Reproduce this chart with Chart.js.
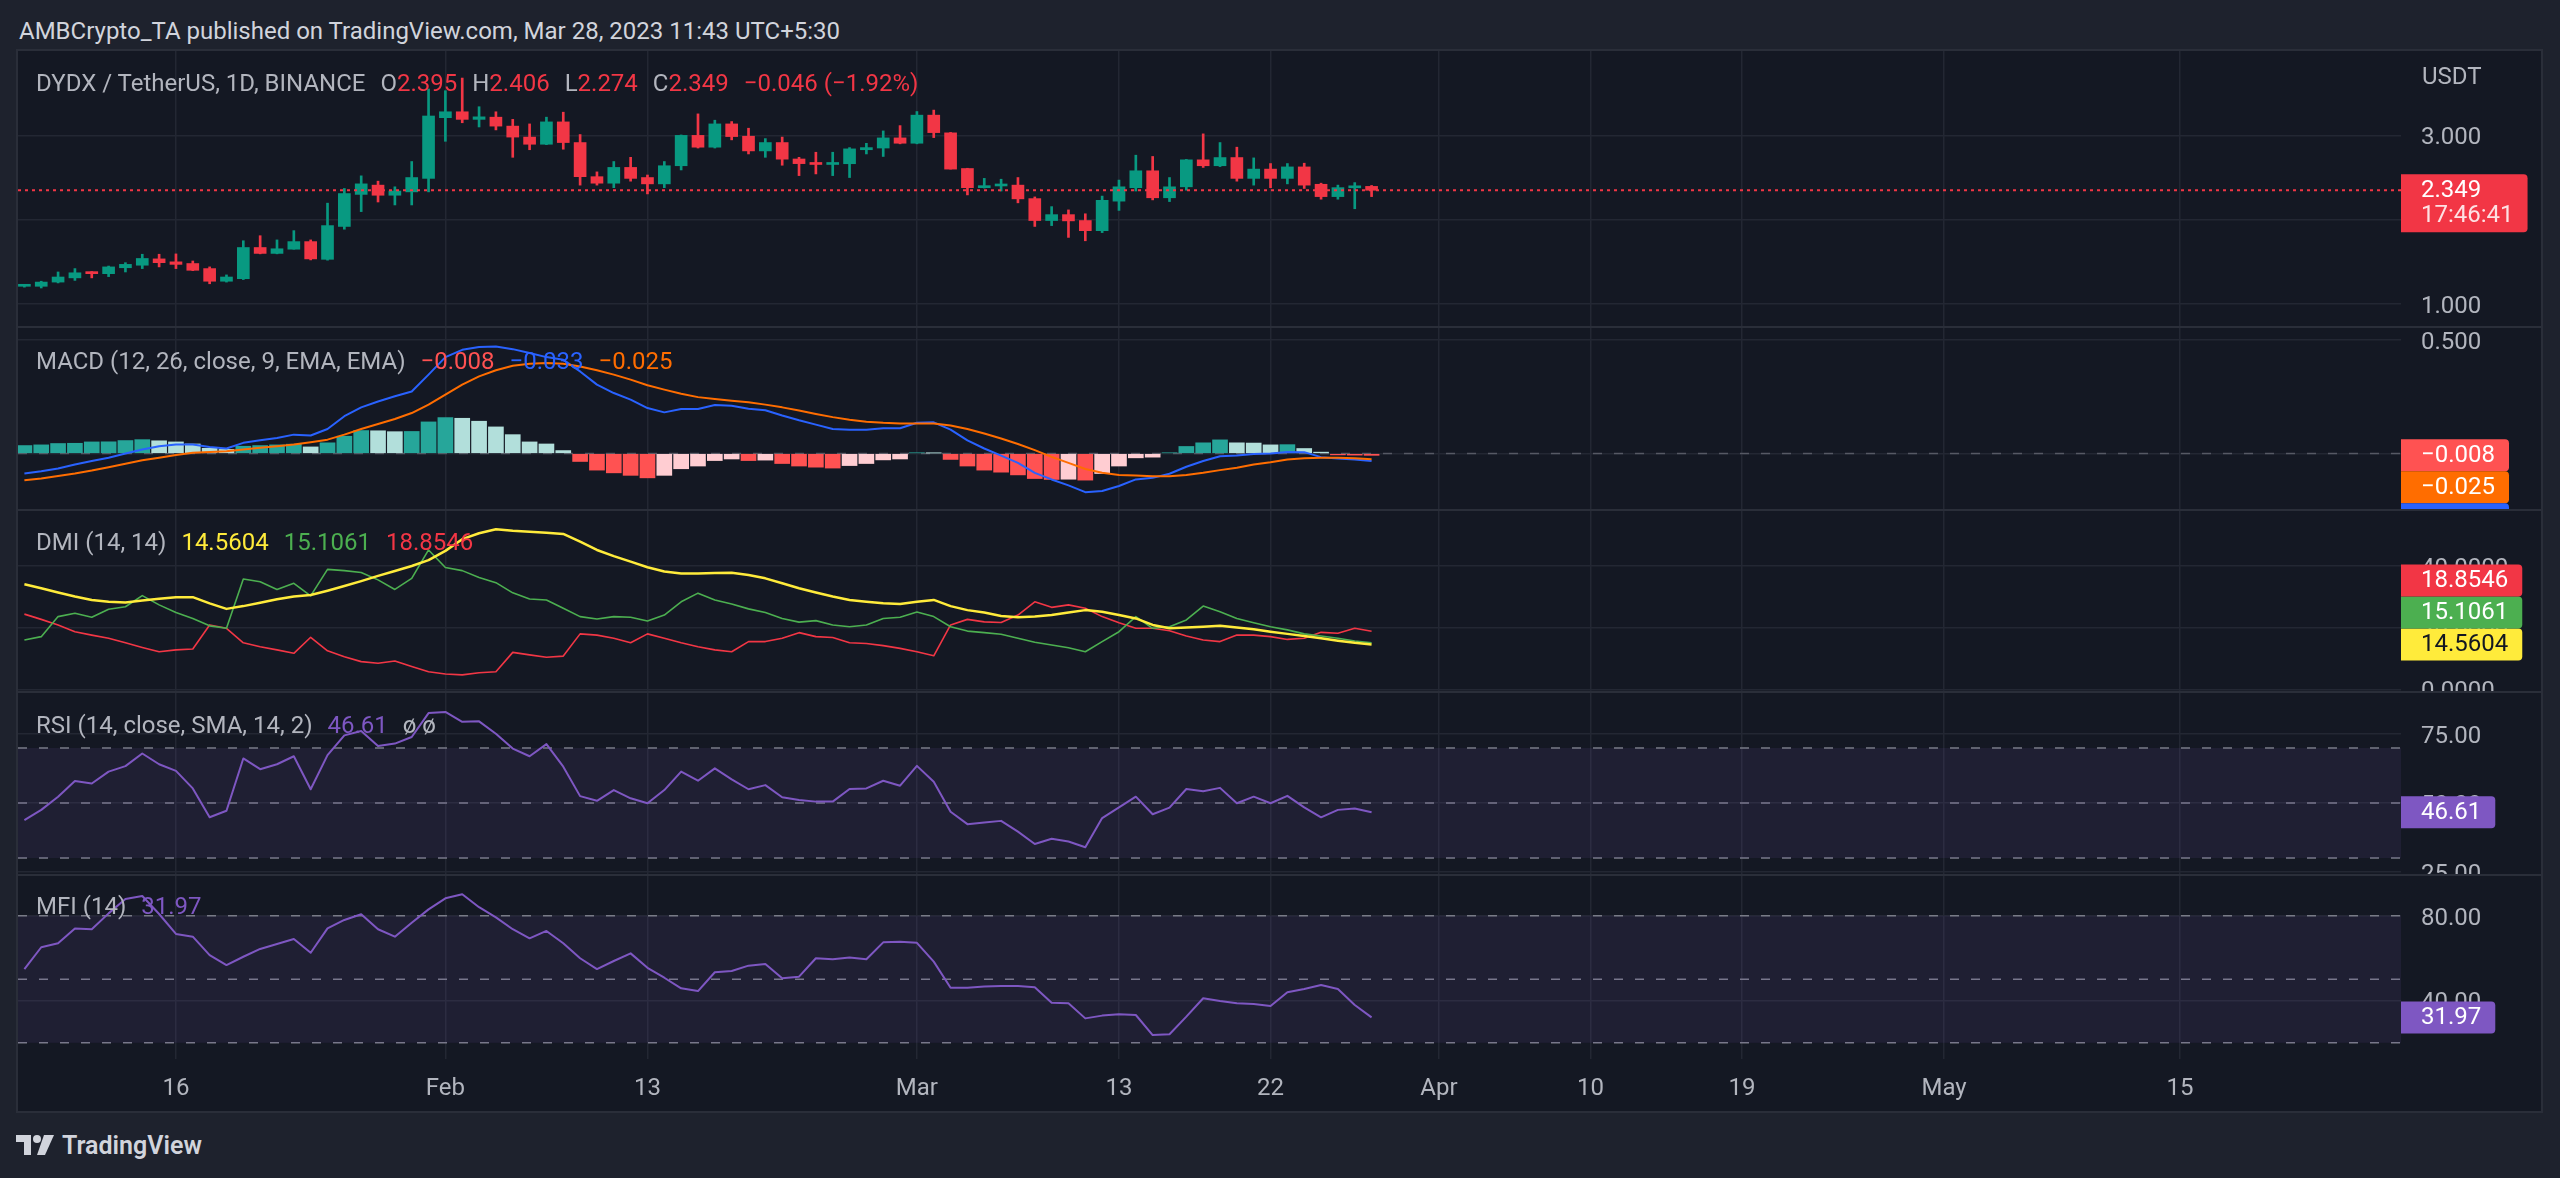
<!DOCTYPE html>
<html>
<head>
<meta charset="utf-8">
<title>DYDX / TetherUS 1D</title>
<script src="https://cdn.jsdelivr.net/npm/chart.js@4.4.1/dist/chart.umd.min.js"></script>
<style>
  html, body { margin: 0; padding: 0; }
  body { position: relative; width: 2560px; height: 1178px; overflow: hidden; background: #1e222d; font-family: Roboto, "Noto Sans", sans-serif; }
  #frame { position: absolute; left: 16px; top: 49px; width: 2527px; height: 1064px; background: #2a2e39; }
  canvas { position: absolute; background: #141823; }
  .txt { position: absolute; z-index: 2; white-space: pre; font-size: 24px; line-height: 24px; color: #b2b5be; }
  .txt .v { margin-left: 15px; }
  #logo { position: absolute; left: 16px; top: 1133px; z-index: 2; }
</style>
</head>
<body>
<div id="frame"></div>
<div class="txt" style="left:19px;top:19px;color:#d1d4dc">AMBCrypto_TA published on TradingView.com, Mar 28, 2023 11:43 UTC+5:30</div>
<div class="txt" style="left:2422px;top:64px">USDT</div>
<svg id="logo" width="200" height="26" viewBox="0 0 200 26">
  <path d="M0 2h15v20H8V9H0z" fill="#d1d4dc"/>
  <circle cx="21" cy="6" r="4" fill="#d1d4dc"/>
  <path d="M28 2h10l-9 20h-8z" fill="#d1d4dc"/>
  <text x="46" y="21" font-family="Roboto, sans-serif" font-size="25" font-weight="600" fill="#d1d4dc">TradingView</text>
</svg>
<script>
// DYDX/USDT daily, Jan 7 - Mar 28 2023 (index 0 = Jan 7)
const opens = [1.21, 1.21, 1.26, 1.31, 1.38, 1.36, 1.43, 1.46, 1.535, 1.50,
  1.48, 1.42, 1.27, 1.30, 1.67, 1.60, 1.65, 1.74, 1.53, 1.92,
  2.30, 2.41, 2.29, 2.33, 2.49, 3.21, 3.28, 3.19, 3.216, 3.11,
  2.98, 2.895, 3.16, 2.915, 2.51, 2.433, 2.62, 2.50, 2.425, 2.64,
  3.0, 2.86, 3.136, 2.99, 2.816, 2.915, 2.72, 2.665, 2.655, 2.664,
  2.83, 2.85, 2.97, 2.907, 3.24, 3.03, 2.607, 2.38, 2.40, 2.41,
  2.25, 1.99, 2.06, 1.99, 1.87, 2.22, 2.38, 2.58, 2.26, 2.39,
  2.71, 2.64, 2.737, 2.49, 2.60, 2.49, 2.626, 2.42, 2.274, 2.378,
  2.395];
const highs = [1.225, 1.27, 1.38, 1.42, 1.385, 1.45, 1.49, 1.59, 1.59, 1.594,
  1.51, 1.44, 1.345, 1.75, 1.81, 1.76, 1.87, 1.76, 2.196, 2.37,
  2.52, 2.457, 2.39, 2.69, 3.55, 3.53, 3.68, 3.34, 3.28, 3.19,
  3.136, 3.216, 3.275, 3.01, 2.567, 2.69, 2.74, 2.53, 2.69, 3.005,
  3.255, 3.18, 3.164, 3.085, 2.962, 2.98, 2.74, 2.80, 2.80, 2.855,
  2.906, 3.053, 3.116, 3.283, 3.30, 3.035, 2.61, 2.49, 2.48, 2.50,
  2.27, 2.155, 2.116, 2.07, 2.28, 2.47, 2.765, 2.75, 2.50, 2.715,
  3.018, 2.915, 2.86, 2.733, 2.666, 2.666, 2.67, 2.433, 2.41, 2.44,
  2.406];
const lows = [1.20, 1.19, 1.25, 1.28, 1.31, 1.325, 1.38, 1.42, 1.44, 1.42,
  1.395, 1.24, 1.26, 1.29, 1.595, 1.595, 1.65, 1.523, 1.52, 1.887,
  2.096, 2.21, 2.175, 2.175, 2.33, 2.93, 3.15, 3.10, 3.065, 2.74,
  2.83, 2.89, 2.836, 2.41, 2.41, 2.38, 2.457, 2.306, 2.38, 2.59,
  2.85, 2.85, 2.947, 2.78, 2.74, 2.646, 2.523, 2.543, 2.523, 2.50,
  2.78, 2.75, 2.90, 2.90, 2.974, 2.60, 2.294, 2.375, 2.34, 2.20,
  1.92, 1.93, 1.79, 1.75, 1.847, 2.11, 2.34, 2.235, 2.215, 2.35,
  2.62, 2.63, 2.457, 2.41, 2.38, 2.425, 2.37, 2.243, 2.243, 2.13,
  2.274];
const closes = [1.215, 1.26, 1.32, 1.37, 1.36, 1.44, 1.47, 1.54, 1.49, 1.47,
  1.40, 1.27, 1.32, 1.67, 1.60, 1.655, 1.74, 1.535, 1.93, 2.31,
  2.425, 2.29, 2.34, 2.50, 3.23, 3.28, 3.19, 3.22, 3.11, 2.98,
  2.895, 3.16, 2.915, 2.51, 2.433, 2.62, 2.49, 2.425, 2.64, 3.0,
  2.86, 3.136, 2.986, 2.816, 2.915, 2.718, 2.665, 2.655, 2.664, 2.84,
  2.855, 2.97, 2.907, 3.24, 3.033, 2.60, 2.38, 2.40, 2.41, 2.247,
  1.99, 2.06, 1.986, 1.87, 2.23, 2.39, 2.58, 2.26, 2.39, 2.71,
  2.64, 2.737, 2.49, 2.60, 2.49, 2.626, 2.41, 2.274, 2.38, 2.395,
  2.349];

const histogram = [0.035, 0.038, 0.044, 0.045, 0.051, 0.0515, 0.057, 0.061, 0.056, 0.051,
  0.042, 0.023, 0.018, 0.032, 0.035, 0.038, 0.041, 0.029, 0.047, 0.076,
  0.101, 0.100, 0.096, 0.097, 0.139, 0.158, 0.155, 0.142, 0.117, 0.083,
  0.051, 0.042, 0.013, -0.035, -0.073, -0.085, -0.096, -0.107, -0.096, -0.067,
  -0.055, -0.031, -0.024, -0.031, -0.029, -0.044, -0.055, -0.060, -0.064, -0.053,
  -0.044, -0.028, -0.024, 0.003, 0.002, -0.026, -0.055, -0.073, -0.082, -0.094,
  -0.110, -0.114, -0.113, -0.117, -0.088, -0.055, -0.019, -0.016, 0.003, 0.031,
  0.047, 0.060, 0.047, 0.046, 0.038, 0.039, 0.022, 0.006, -0.006, -0.007,
  -0.008];
const macdLine = [-0.088, -0.078, -0.066, -0.048, -0.033, -0.019, 0.000, 0.018, 0.032, 0.040,
  0.040, 0.029, 0.022, 0.047, 0.058, 0.068, 0.083, 0.079, 0.108, 0.164,
  0.203, 0.229, 0.252, 0.273, 0.347, 0.424, 0.456, 0.468, 0.471, 0.459,
  0.442, 0.424, 0.412, 0.361, 0.303, 0.266, 0.237, 0.200, 0.181, 0.196,
  0.196, 0.213, 0.210, 0.197, 0.190, 0.167, 0.146, 0.127, 0.108, 0.105,
  0.105, 0.111, 0.111, 0.135, 0.137, 0.105, 0.058, 0.022, -0.009, -0.041,
  -0.085, -0.114, -0.140, -0.170, -0.165, -0.143, -0.114, -0.107, -0.089, -0.058,
  -0.033, -0.012, -0.009, -0.002, 0.000, 0.007, 0.006, -0.016, -0.022, -0.026,
  -0.033];
const signalLine = [-0.118, -0.110, -0.099, -0.088, -0.075, -0.060, -0.045, -0.030, -0.019, -0.007,
  0.003, 0.007, 0.010, 0.018, 0.025, 0.032, 0.040, 0.050, 0.061, 0.083,
  0.108, 0.130, 0.152, 0.178, 0.215, 0.259, 0.303, 0.339, 0.366, 0.386,
  0.395, 0.398, 0.395, 0.383, 0.366, 0.347, 0.325, 0.300, 0.281, 0.263,
  0.248, 0.240, 0.232, 0.225, 0.215, 0.203, 0.189, 0.174, 0.160, 0.149,
  0.140, 0.135, 0.132, 0.132, 0.132, 0.123, 0.108, 0.088, 0.066, 0.042,
  0.015, -0.015, -0.041, -0.068, -0.085, -0.094, -0.097, -0.100, -0.100, -0.094,
  -0.085, -0.073, -0.063, -0.048, -0.038, -0.026, -0.021, -0.019, -0.019, -0.021,
  -0.025];

const adx = [34.1, 32.8, 31.4, 30.1, 29.0, 28.4, 28.2, 28.8, 29.4, 29.9,
  29.9, 27.9, 26.1, 27.0, 28.1, 29.2, 30.1, 30.6, 32.0, 33.5,
  35.1, 36.8, 38.4, 40.0, 41.9, 44.9, 48.7, 50.6, 51.9, 51.4,
  51.1, 50.8, 50.4, 47.9, 45.2, 43.2, 41.4, 39.6, 38.2, 37.6,
  37.6, 37.7, 37.8, 37.1, 36.0, 34.4, 32.8, 31.4, 30.1, 29.0,
  28.4, 27.9, 27.7, 28.4, 29.0, 27.0, 25.7, 24.9, 23.8, 23.4,
  23.6, 24.1, 24.9, 25.7, 25.2, 24.1, 23.0, 20.9, 19.8, 20.1,
  20.3, 20.6, 20.1, 19.5, 18.7, 18.0, 17.3, 16.6, 15.8, 15.1,
  14.5604];
const plusDI = [16.0, 17.1, 23.6, 24.7, 23.4, 26.0, 26.8, 30.4, 27.4, 24.9,
  23.0, 20.6, 19.8, 35.8, 34.9, 32.4, 34.4, 30.3, 38.9, 38.5,
  37.9, 35.5, 32.4, 36.0, 45.2, 39.5, 38.5, 36.3, 34.6, 31.3,
  29.3, 29.0, 26.3, 23.6, 22.8, 23.6, 23.4, 22.2, 24.1, 28.4,
  31.2, 29.0, 27.7, 26.1, 24.9, 23.0, 21.8, 22.3, 20.9, 20.3,
  20.9, 23.0, 23.4, 25.1, 23.6, 20.3, 18.9, 18.4, 17.9, 16.6,
  15.3, 14.4, 13.5, 12.2, 15.5, 18.7, 23.6, 19.8, 20.3, 22.5,
  27.0, 25.2, 23.0, 21.6, 20.3, 19.3, 18.0, 17.3, 16.6, 15.7,
  15.1061];
const minusDI = [24.4, 22.7, 20.9, 18.7, 17.6, 16.6, 15.1, 13.6, 12.2, 12.8,
  13.1, 20.9, 19.8, 15.1, 13.8, 12.8, 11.7, 16.9, 12.5, 10.6,
  9.0, 8.5, 9.2, 7.4, 5.7, 5.0, 4.7, 5.4, 5.7, 12.0,
  11.2, 10.4, 10.8, 18.0, 17.6, 16.6, 15.1, 18.0, 16.6, 15.1,
  13.8, 12.8, 12.2, 15.5, 15.5, 16.6, 18.4, 17.1, 16.8, 15.1,
  14.9, 14.2, 13.3, 12.2, 10.9, 20.9, 22.7, 21.9, 21.7, 24.1,
  28.4, 26.6, 27.4, 26.3, 23.6, 21.6, 19.8, 19.8, 19.0, 17.3,
  16.0, 15.5, 17.6, 17.6, 17.1, 16.2, 16.6, 18.5, 18.2, 19.8,
  18.8546];

const rsi = [43.8, 47.5, 52.3, 58.0, 57.1, 61.4, 63.4, 68.0, 64.1, 61.7,
  55.3, 44.8, 47.2, 66.2, 62.3, 64.1, 67.0, 55.0, 67.4, 74.6,
  76.2, 70.7, 71.6, 74.0, 82.7, 83.1, 79.5, 79.7, 75.2, 69.8,
  67.0, 71.4, 63.2, 52.5, 50.8, 54.7, 51.7, 49.9, 54.7, 61.4,
  58.1, 62.6, 58.6, 55.0, 56.5, 52.1, 51.1, 50.5, 50.5, 55.1,
  55.3, 58.1, 56.3, 63.5, 57.7, 46.8, 42.3, 42.9, 43.5, 39.6,
  35.1, 37.0, 36.0, 33.9, 44.5, 48.4, 52.3, 45.9, 48.3, 55.1,
  54.3, 55.5, 49.9, 52.3, 49.9, 52.6, 48.4, 44.8, 47.5, 48.0,
  46.61];
const mfi = [54.8, 65.1, 67.0, 74.0, 73.6, 81.1, 87.9, 89.3, 80.8, 71.4,
  70.1, 61.4, 56.7, 60.6, 64.3, 66.6, 69.0, 62.5, 74.0, 78.0,
  80.7, 73.6, 70.1, 76.7, 83.0, 88.2, 90.1, 84.0, 79.2, 73.6,
  69.3, 72.8, 67.0, 59.9, 54.8, 58.6, 62.2, 55.4, 50.7, 45.7,
  44.4, 53.3, 53.9, 56.4, 57.2, 50.4, 51.2, 59.9, 59.4, 60.2,
  59.4, 67.4, 67.7, 67.2, 58.3, 46.0, 46.0, 46.5, 46.8, 46.8,
  46.2, 38.9, 38.6, 31.5, 32.8, 33.4, 33.1, 23.6, 24.0, 32.3,
  41.0, 39.7, 38.6, 38.3, 37.3, 43.8, 45.4, 47.3, 45.4, 37.8,
  31.97];

// time axis: day index of each label
const tickDays = [9, 25, 37, 53, 65, 74, 84, 93, 102, 114, 128];
const tickLabels = ['16', 'Feb', '13', 'Mar', '13', '22', 'Apr', '10', '19', 'May', '15'];
const rsiLevels = [70, 50, 30];
const mfiLevels = [80, 50, 20];
const countdown = '17:46:41';

const UP = '#089981', DOWN = '#f23645';
const GRID = '#232733', TEXT = '#b2b5be', LEVEL = '#787b86';
const PURPLE = '#7e57c2';
const X_MIN = -0.38, X_MAX = 141.13;
const AXIS_W = 140;

Chart.defaults.font.family = 'Roboto, "Noto Sans", sans-serif';
Chart.defaults.font.size = 24;
Chart.defaults.color = TEXT;

const fmt = (v, d) => (v < 0 ? '\u2212' : '') + Math.abs(v).toFixed(d);
const last = a => a[a.length - 1];

// labels on the price axis, stacked so they do not overlap
const valueBoxes = {
  id: 'valueBoxes',
  afterDraw(chart, args, opts) {
    if (!opts.boxes) return;
    const ctx = chart.ctx;
    const y = chart.scales.y;
    const left = chart.chartArea.right;
    const h = 32;
    const items = opts.boxes.map(b => Object.assign({}, b, { py: y.getPixelForValue(b.value) }));
    if (opts.dir === 'down') {
      items.sort((a, b) => a.py - b.py);
      for (let k = 1; k < items.length; k++) items[k].py = Math.max(items[k].py, items[k - 1].py + h);
    } else if (opts.dir === 'up') {
      items.sort((a, b) => b.py - a.py);
      for (let k = 1; k < items.length; k++) items[k].py = Math.min(items[k].py, items[k - 1].py - h);
    }
    ctx.save();
    ctx.font = '24px Roboto, "Noto Sans", sans-serif';
    ctx.textBaseline = 'middle';
    items.forEach(b => {
      const tw = Math.max(ctx.measureText(b.text).width, b.sub ? ctx.measureText(b.sub).width : 0);
      const bh = b.sub ? 58 : h;
      ctx.fillStyle = b.color;
      ctx.beginPath();
      ctx.roundRect(left, b.py - h / 2, tw + 34, bh, [0, 4, 4, 0]);
      ctx.fill();
      ctx.fillStyle = b.textColor || '#ffffff';
      ctx.fillText(b.text, left + 20, b.py + 1);
      if (b.sub) {
        ctx.fillStyle = 'rgba(255,255,255,0.85)';
        ctx.fillText(b.sub, left + 20, b.py + 26);
      }
    });
    ctx.restore();
  }
};

function xAxis(withLabels) {
  return {
    type: 'linear', min: X_MIN, max: X_MAX, offset: false,
    grid: { color: GRID, lineWidth: 1.5, drawTicks: false, offset: false },
    border: { display: false },
    ticks: { display: withLabels, autoSkip: false, maxRotation: 0, padding: 16, color: TEXT,
      callback: (v, i) => tickLabels[i] },
    afterBuildTicks: s => { s.ticks = tickDays.map(v => ({ value: v })); },
    afterFit: s => { s.height = withLabels ? 52 : 0; s.paddingLeft = 0; s.paddingRight = 0; }
  };
}

function yAxis(min, max, values, digits) {
  return {
    position: 'right', min: min, max: max,
    grid: { color: GRID, lineWidth: 1.5, drawTicks: false },
    border: { display: false },
    ticks: { autoSkip: false, padding: 20, labelOffset: 3, color: TEXT, callback: v => v.toFixed(digits) },
    afterBuildTicks: s => { s.ticks = values.map(v => ({ value: v })); },
    afterFit: s => { s.width = AXIS_W; s.paddingTop = 0; s.paddingBottom = 0; }
  };
}

const series = values => values.map((v, i) => ({ x: i, y: v }));
const level = v => [{ x: X_MIN, y: v }, { x: X_MAX, y: v }];

function lineSet(values, color, width, order) {
  return { type: 'line', data: series(values), borderColor: color, borderWidth: width,
    pointRadius: 0, tension: 0, fill: false, borderJoinStyle: 'round', order: order };
}
function levelSet(v, color, extra) {
  return Object.assign({ type: 'line', data: level(v), borderColor: color, borderWidth: 1.5,
    borderDash: [9, 12], pointRadius: 0, fill: false, order: 5 }, extra || {});
}

function makeChart(top, height, datasets, y, boxes, dir, withLabels) {
  const canvas = document.createElement('canvas');
  canvas.width = 2523;
  canvas.height = height;
  canvas.style.left = '18px';
  canvas.style.top = top + 'px';
  document.body.appendChild(canvas);
  return new Chart(canvas, {
    type: 'bar',
    data: { datasets: datasets },
    options: {
      responsive: false, animation: false, devicePixelRatio: 1, events: [],
      layout: { padding: 0 },
      scales: { x: xAxis(withLabels), y: y },
      plugins: { legend: { display: false }, tooltip: { enabled: false },
        valueBoxes: { boxes: boxes, dir: dir } }
    },
    plugins: [valueBoxes]
  });
}

function legend(top, label, values) {
  const d = document.createElement('div');
  d.className = 'txt';
  d.style.left = '36px';
  d.style.top = top + 'px';
  d.textContent = label;
  values.forEach(([text, color, cls]) => {
    const s = document.createElement('span');
    s.textContent = text;
    if (color) s.style.color = color;
    s.className = cls === undefined ? 'v' : cls;
    d.appendChild(s);
  });
  document.body.appendChild(d);
}

// ---- price pane
const candleColors = closes.map((c, i) => (c >= opens[i] ? UP : DOWN));
const lastClose = last(closes);
makeChart(51, 275, [
  { type: 'bar', data: lows.map((l, i) => ({ x: i, y: [l, highs[i]] })), backgroundColor: candleColors,
    barThickness: 2, grouped: false, order: 2 },
  { type: 'bar', data: opens.map((o, i) => ({ x: i, y: [o, closes[i]] })), backgroundColor: candleColors,
    barThickness: 12, minBarLength: 2, grouped: false, order: 1 },
  levelSet(lastClose, DOWN, { borderWidth: 2, borderDash: [3, 4], order: 0 })
], yAxis(0.739, 4.001, [1, 2, 3], 3),
  [{ value: lastClose, color: last(candleColors), text: lastClose.toFixed(3), sub: countdown }], null, false);

const n = closes.length - 1;
const change = closes[n] - closes[n - 1];
const red = DOWN;
legend(71, 'DYDX / TetherUS, 1D, BINANCE', [
  ['O', null, 'v'], [opens[n].toFixed(3), red, ''],
  ['H', null, 'v'], [highs[n].toFixed(3), red, ''],
  ['L', null, 'v'], [lows[n].toFixed(3), red, ''],
  ['C', null, 'v'], [closes[n].toFixed(3), red, ''],
  [fmt(change, 3) + ' (' + fmt(change / closes[n - 1] * 100, 2) + '%)', red, 'v']
]);

// ---- MACD pane
const histColors = histogram.map((h, i) => {
  const p = i ? histogram[i - 1] : h;
  return h >= 0 ? (h >= p ? '#26a69a' : '#b2dfdb') : (h <= p ? '#ff5252' : '#ffcdd2');
});
makeChart(328, 181, [
  levelSet(0, 'rgba(120,123,134,0.6)'),
  { type: 'bar', data: series(histogram), backgroundColor: histColors, barThickness: 15, grouped: false, order: 3 },
  lineSet(macdLine, '#2962ff', 2, 2),
  lineSet(signalLine, '#ff6d00', 2, 1)
], yAxis(-0.244, 0.552, [0, 0.5], 3), [
  { value: last(histogram), color: last(histColors), text: fmt(last(histogram), 3) },
  { value: last(signalLine), color: '#ff6d00', text: fmt(last(signalLine), 3) },
  { value: last(macdLine), color: '#2962ff', text: fmt(last(macdLine), 3) }
], 'down', false);
legend(349, 'MACD (12, 26, close, 9, EMA, EMA)', [
  [fmt(last(histogram), 3), last(histColors)],
  [fmt(last(macdLine), 3), '#2962ff'],
  [fmt(last(signalLine), 3), '#ff6d00']
]);

// ---- DMI pane
makeChart(511, 180, [
  lineSet(minusDI, '#f23645', 1.6, 3),
  lineSet(plusDI, '#4caf50', 1.6, 2),
  lineSet(adx, '#ffeb3b', 2.5, 1)
], yAxis(-0.52, 57.83, [0, 20, 40], 4), [
  { value: last(adx), color: '#ffeb3b', textColor: '#131722', text: last(adx).toFixed(4) },
  { value: last(plusDI), color: '#4caf50', text: last(plusDI).toFixed(4) },
  { value: last(minusDI), color: '#f23645', text: last(minusDI).toFixed(4) }
], 'up', false);
legend(530, 'DMI (14, 14)', [
  [last(adx).toFixed(4), '#ffeb3b'],
  [last(plusDI).toFixed(4), '#4caf50'],
  [last(minusDI).toFixed(4), '#f23645']
]);

// ---- RSI pane
makeChart(693, 181, [
  levelSet(rsiLevels[0], LEVEL, { fill: '+2', backgroundColor: 'rgba(126,87,194,0.1)' }),
  levelSet(rsiLevels[1], LEVEL),
  levelSet(rsiLevels[2], LEVEL),
  lineSet(rsi, PURPLE, 2, 0)
], yAxis(24.18, 90, [25, 50, 75], 2),
  [{ value: last(rsi), color: PURPLE, text: last(rsi).toFixed(2) }], null, false);
legend(713, 'RSI (14, close, SMA, 14, 2)', [
  [last(rsi).toFixed(2), PURPLE],
  ['\u00f8', null, 'v'], [' \u00f8', null, '']
]);

// ---- MFI pane with the time axis
makeChart(876, 235, [
  levelSet(mfiLevels[0], LEVEL, { fill: '+2', backgroundColor: 'rgba(126,87,194,0.1)' }),
  levelSet(mfiLevels[1], LEVEL),
  levelSet(mfiLevels[2], LEVEL),
  lineSet(mfi, PURPLE, 2, 0)
], yAxis(12.31, 98.75, [40, 80], 2),
  [{ value: last(mfi), color: PURPLE, text: last(mfi).toFixed(2) }], null, true);
legend(894, 'MFI (14)', [[last(mfi).toFixed(2), PURPLE]]);
</script>
</body>
</html>
